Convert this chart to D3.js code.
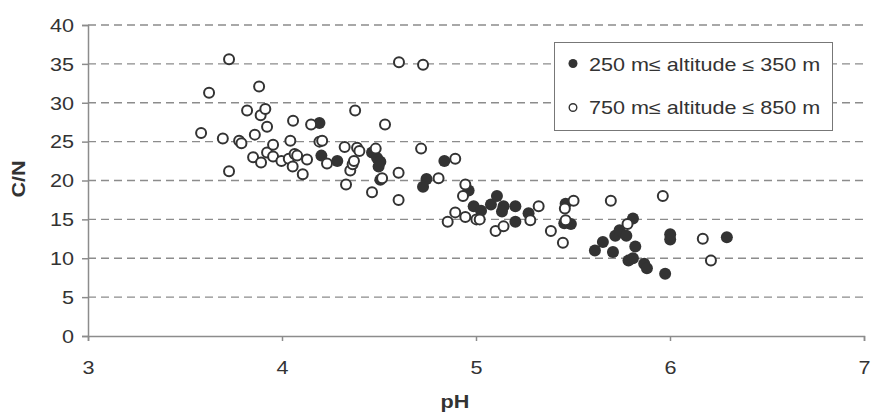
<!DOCTYPE html>
<html>
<head>
<meta charset="utf-8">
<script src="https://cdn.jsdelivr.net/npm/d3@7"></script>
<style>
  html, body { margin: 0; padding: 0; background: #fff; }
  svg { display: block; }
  text { font-family: "Liberation Sans", Arial, sans-serif; fill: #333; }
</style>
</head>
<body>
<svg id="chart" width="874" height="412"></svg>
<script>
// ---- Data ----
// 250 m ≤ altitude ≤ 350 m (filled markers)
const lowPH = [4.193, 4.203, 4.285, 4.464, 4.490, 4.507, 4.498, 4.507, 4.745, 4.727,
  4.837, 4.962, 4.988, 5.026, 5.077, 5.108, 5.142, 5.134, 5.203, 5.203,
  5.271, 5.462, 5.455, 5.489, 5.613, 5.654, 5.706, 5.718, 5.740, 5.775,
  5.809, 5.821, 5.786, 5.809, 5.867, 5.881, 5.975, 6.001, 6.001, 6.293];
const lowCN = [27.4, 23.2, 22.5, 23.6, 22.9, 22.4, 21.8, 20.1, 20.2, 19.2,
  22.5, 18.7, 16.7, 16.1, 16.9, 18.0, 16.7, 16.0, 16.7, 14.7,
  15.8, 17.0, 14.5, 14.4, 11.0, 12.1, 10.8, 12.9, 13.6, 12.9,
  15.1, 11.5, 9.7, 10.0, 9.3, 8.7, 8.0, 13.1, 12.4, 12.7];

// 750 m ≤ altitude ≤ 850 m (open markers)
const highPH = [3.583, 3.624, 3.727, 3.695, 3.727, 3.779, 3.791, 3.820, 3.860, 3.851,
  3.882, 3.890, 3.914, 3.923, 3.892, 3.923, 3.954, 3.954, 3.997, 4.035,
  4.057, 4.043, 4.065, 4.078, 4.055, 4.107, 4.129, 4.150, 4.193, 4.207,
  4.232, 4.323, 4.330, 4.352, 4.364, 4.371, 4.387, 4.399, 4.377, 4.483,
  4.464, 4.516, 4.531, 4.601, 4.601, 4.603, 4.727, 4.717, 4.807, 4.893,
  4.945, 4.933, 4.893, 4.854, 4.945, 5.002, 5.019, 5.101, 5.142, 5.280,
  5.323, 5.386, 5.448, 5.458, 5.462, 5.503, 5.695, 5.781, 5.963, 6.169, 6.211];
const highCN = [26.1, 31.3, 35.6, 25.4, 21.2, 25.1, 24.8, 29.0, 25.9, 23.0,
  32.1, 28.4, 29.2, 26.9, 22.3, 23.6, 24.6, 23.1, 22.5, 22.8,
  27.7, 25.1, 23.4, 23.2, 21.8, 20.8, 22.7, 27.2, 25.0, 25.1,
  22.2, 24.3, 19.5, 21.3, 22.1, 22.5, 24.2, 23.8, 29.0, 24.1,
  18.5, 20.3, 27.2, 21.0, 17.5, 35.2, 34.9, 24.1, 20.3, 22.8,
  19.5, 18.0, 15.9, 14.7, 15.3, 15.0, 15.0, 13.5, 14.1, 14.9,
  16.7, 13.5, 12.0, 16.4, 14.9, 17.4, 17.4, 14.4, 18.0, 12.5, 9.7];

const xTicks = [3, 4, 5, 6, 7];
const yTicks = [0, 5, 10, 15, 20, 25, 30, 35, 40];
const legendLabels = ["250 m\u2264 altitude \u2264 350 m", "750 m\u2264 altitude \u2264 850 m"];
const xTitle = "pH";
const yTitle = "C/N";

// ---- Layout ----
const svg = d3.select("#chart");
const pLeft = 88, pRight = 864, pTop = 25, pBottom = 336;
const x = d3.scaleLinear().domain([3, 7]).range([pLeft, pRight]);
const y = d3.scaleLinear().domain([0, 40]).range([pBottom, pTop]);
const ink = "#333";
const axisCol = "#8c8c8c";
const SX = 1.2; // horizontal stretch of the text

// gridlines
svg.append("g").selectAll("line").data(yTicks.filter(d => d > 0)).join("line")
  .attr("x1", pLeft).attr("x2", pRight)
  .attr("y1", d => y(d)).attr("y2", d => y(d))
  .attr("stroke", axisCol).attr("stroke-width", 1.3)
  .attr("stroke-dasharray", "8,5");

// axes
const gx = svg.append("g").attr("transform", `translate(0,${pBottom})`)
  .call(d3.axisBottom(x).tickValues(xTicks).tickSizeOuter(0).tickSize(5).tickFormat(d3.format("d")));
const gy = svg.append("g").attr("transform", `translate(${pLeft},0)`)
  .call(d3.axisLeft(y).tickValues(yTicks).tickSizeOuter(0).tickSize(6).tickFormat(d3.format("d")));
[gx, gy].forEach(g => {
  g.select(".domain").attr("stroke", axisCol).attr("stroke-width", 1.5);
  g.selectAll(".tick line").attr("stroke", axisCol).attr("stroke-width", 1.5);
  g.selectAll(".tick text").attr("fill", ink).attr("font-size", 18)
    .attr("font-family", '"Liberation Sans", Arial, sans-serif');
});
gx.selectAll(".tick text").attr("y", 0).attr("dy", 0)
  .attr("transform", `translate(0,38) scale(${SX},1)`);
gy.selectAll(".tick text").attr("x", 0).attr("dy", "0.35em")
  .attr("transform", `translate(-14,0) scale(${SX},1)`);

// axis titles
svg.append("text").attr("transform", `translate(455,408) scale(${SX},1)`)
  .attr("text-anchor", "middle").attr("font-size", 18).attr("font-weight", "bold")
  .text(xTitle);
svg.append("text").attr("transform", `translate(24.5,179) rotate(-90) scale(${SX},1)`)
  .attr("text-anchor", "middle").attr("font-size", 18).attr("font-weight", "bold")
  .text(yTitle);

// points
const lowData = lowPH.map((p, i) => [p, lowCN[i]]);
const highData = highPH.map((p, i) => [p, highCN[i]]);
svg.append("g").selectAll("circle").data(lowData).join("circle")
  .attr("cx", d => x(d[0])).attr("cy", d => y(d[1])).attr("r", 6)
  .attr("fill", ink);
svg.append("g").selectAll("circle").data(highData).join("circle")
  .attr("cx", d => x(d[0])).attr("cy", d => y(d[1])).attr("r", 5)
  .attr("fill", "#fff").attr("stroke", ink).attr("stroke-width", 2);

// legend
const lg = svg.append("g");
lg.append("rect").attr("x", 554.5).attr("y", 42.5).attr("width", 278).attr("height", 88)
  .attr("fill", "#fff").attr("stroke", "#777").attr("stroke-width", 1);
lg.append("circle").attr("cx", 573).attr("cy", 63.5).attr("r", 4.5).attr("fill", ink);
lg.append("circle").attr("cx", 573).attr("cy", 107.5).attr("r", 3.8)
  .attr("fill", "#fff").attr("stroke", ink).attr("stroke-width", 1.4);
lg.selectAll("text.lab").data(legendLabels).join("text").attr("class", "lab")
  .attr("transform", (d, i) => `translate(589,${i === 0 ? 70.5 : 114}) scale(${SX},1)`)
  .attr("font-size", 18).text(d => d);
</script>
</body>
</html>
